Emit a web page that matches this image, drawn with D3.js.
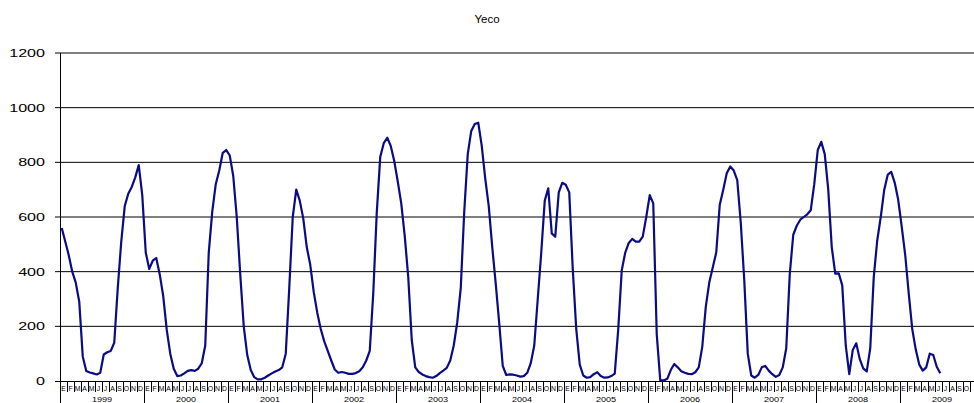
<!DOCTYPE html>
<html><head><meta charset="utf-8">
<script src="https://cdn.jsdelivr.net/npm/d3@7"></script>
<style>
html,body{margin:0;padding:0;background:#fff;overflow:hidden}
text{font-family:"Liberation Sans",Arial,sans-serif}
</style></head>
<body><svg id="c" width="974" height="403"></svg>
<script>
// ---- data (half-month readings, one array per year) ----
const title = "Yeco";
const years = [1999,2000,2001,2002,2003,2004,2005,2006,2007,2008,2009];
const monthLabels = ["E","F","M","A","M","J","J","A","S","O","N","D"];
const yTicks = [0,200,400,600,800,1000,1200];
const v1999 = [560,510,460,400,360,290,90,37,31,28,24,30,97,105,110,140,340,510,640,685,710,745,790,680];
const v2000 = [470,410,440,450,390,310,187,100,45,18,20,28,37,40,37,45,65,130,470,620,720,770,835,845];
const v2001 = [825,750,600,390,200,95,40,14,6,6,12,20,28,35,40,50,100,340,600,700,660,595,490,425];
const v2002 = [325,250,190,145,110,75,42,30,33,30,26,26,29,36,50,75,110,320,615,820,870,890,860,805];
const v2003 = [730,650,530,380,150,50,33,24,18,14,12,18,29,38,48,75,130,215,340,620,830,915,940,945];
const v2004 = [860,740,640,490,355,210,55,22,24,23,20,16,18,30,65,130,300,470,660,705,540,528,690,725];
const v2005 = [718,690,410,190,60,20,12,14,25,32,18,12,13,18,27,190,405,470,505,520,510,510,528,600];
const v2006 = [680,650,170,2,2,8,40,62,50,36,30,26,25,32,50,125,270,360,415,470,645,700,760,785];
const v2007 = [770,735,580,370,100,20,12,22,50,55,38,25,15,22,50,120,390,535,568,590,600,610,625,720];
const v2008 = [845,875,830,700,490,393,394,350,130,25,113,138,80,46,35,120,380,515,600,700,755,765,725,662];
const v2009 = [564,460,320,190,115,60,38,50,100,95,52,28];
const seriesByYear = [v1999,v2000,v2001,v2002,v2003,v2004,v2005,v2006,v2007,v2008,v2009];

// ---- build points: position in months since Jan 1999 ----
const points = [];
seriesByYear.forEach((arr, yi) => {
  arr.forEach((v, j) => points.push({t: yi*12 + (j + 0.5)/2, v}));
});

const svg = d3.select("#c");
const nMonths = years.length * 12;
const x = d3.scaleLinear().domain([0, nMonths]).range([60, 984]);
const y = d3.scaleLinear().domain([0, 1200]).range([381, 53]);

// title
svg.append("text").attr("x", 487).attr("y", 23).attr("text-anchor","middle")
  .attr("font-size", 11.5).attr("fill","#000").text(title);

// gridlines
svg.append("g").selectAll("line").data(yTicks.filter(d=>d>0)).join("line")
  .attr("x1", 55).attr("x2", 974)
  .attr("y1", d=>y(d)).attr("y2", d=>y(d))
  .attr("stroke","#000").attr("stroke-width",1);

// y axis line and ticks
svg.append("line").attr("x1",60.5).attr("x2",60.5).attr("y1",y(1200)).attr("y2",y(0))
  .attr("stroke","#000");
svg.append("line").attr("x1",55).attr("x2",974).attr("y1",y(0)+0.5).attr("y2",y(0)+0.5)
  .attr("stroke","#000");
svg.append("g").selectAll("text").data(yTicks).join("text")
  .attr("transform", d=>`translate(45,${y(d)+4}) scale(1.4,1)`)
  .attr("text-anchor","end").attr("font-size",11.5).attr("fill","#000")
  .text(d=>d);

// x axis: month ticks and labels (only those whose cell starts inside the window)
const months = d3.range(nMonths + 1).filter(d => x(d) <= 974);
svg.append("g").selectAll("line").data(months).join("line")
  .attr("x1", d=>Math.round(x(d))+0.5).attr("x2", d=>Math.round(x(d))+0.5)
  .attr("y1", y(0)).attr("y2", d => d % 12 === 0 ? 403 : 392)
  .attr("stroke","#000").attr("stroke-width",1);
svg.append("g").selectAll("text").data(d3.range(nMonths).filter(d => x(d+1) <= 974)).join("text")
  .attr("transform", d=>`translate(${x(d+0.5)},${390.5}) scale(0.85,1)`)
  .attr("text-anchor","middle").attr("font-size",8).attr("fill","#000")
  .text(d=>monthLabels[d % 12]);
svg.append("g").selectAll("text").data(years).join("text")
  .attr("transform", (d,i)=>`translate(${x(i*12+6)},${402}) scale(1.3,1)`)
  .attr("text-anchor","middle").attr("font-size",7).attr("fill","#000")
  .text(d=>d);

// series line
const line = d3.line().x(d=>x(d.t)).y(d=>y(d.v)).curve(d3.curveLinear);
svg.append("path").datum(points).attr("d", line)
  .attr("fill","none").attr("stroke","#0b0b85").attr("stroke-width",2.2)
  .attr("stroke-linejoin","round");
</script></body></html>
